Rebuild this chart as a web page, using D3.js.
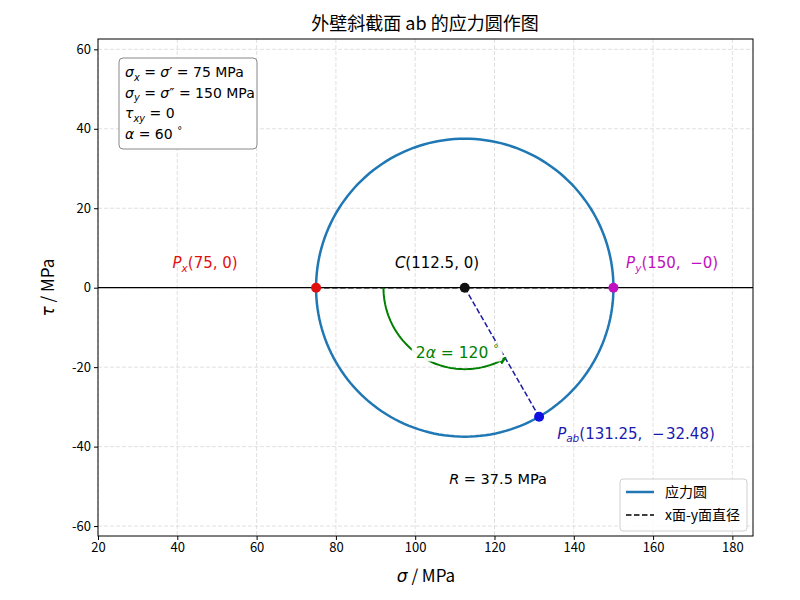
<!DOCTYPE html>
<html>
<head>
<meta charset="utf-8">
<script src="https://cdn.jsdelivr.net/npm/d3@7"></script>
<style>
  body { margin: 0; background: #fff; }
  svg text { font-family: "Noto Sans CJK SC", "DejaVu Sans", sans-serif; }
  .m { font-family: "DejaVu Sans", sans-serif; }
</style>
</head>
<body>
<svg id="chart" width="800" height="600"></svg>
<script>
// stress values
var sigmaValues = [75, 150, 112.5, 131.25];
var tauValues = [0, 0, 0, -32.48];
var pointNames = ["Px", "Py", "C", "Pab"];
var pointColors = ["#e01010", "#c010c0", "#101010", "#1010e0"];
var radiusR = 37.5;
var twoAlpha = 120;
var xTicks = [20, 40, 60, 80, 100, 120, 140, 160, 180];
var yTicks = [-60, -40, -20, 0, 20, 40, 60];
var xDomain = [20, 185.2];
var yDomain = [-62.5, 62.6];

var svg = d3.select("#chart");
var plotLeft = 98, plotRight = 753, plotTop = 39, plotBottom = 536;

var x = d3.scaleLinear().domain(xDomain).range([plotLeft, plotRight]);
var y = d3.scaleLinear().domain(yDomain).range([plotBottom, plotTop]);

// grid
var grid = svg.append("g");
grid.selectAll("line.gx").data(xTicks).enter().append("line")
    .attr("x1", function (d) { return x(d); }).attr("x2", function (d) { return x(d); })
    .attr("y1", plotTop).attr("y2", plotBottom)
    .attr("stroke", "#d8d8d8").attr("stroke-width", 0.8).attr("stroke-dasharray", "4,2");
grid.selectAll("line.gy").data(yTicks).enter().append("line")
    .attr("y1", function (d) { return y(d); }).attr("y2", function (d) { return y(d); })
    .attr("x1", plotLeft).attr("x2", plotRight)
    .attr("stroke", "#d8d8d8").attr("stroke-width", 0.8).attr("stroke-dasharray", "4,2");

// axes
var xAxis = svg.append("g").attr("transform", "translate(0," + plotBottom + ")")
    .call(d3.axisBottom(x).tickValues(xTicks).tickSize(4).tickSizeOuter(0).tickFormat(d3.format("d")));
var yAxis = svg.append("g").attr("transform", "translate(" + plotLeft + ",0)")
    .call(d3.axisLeft(y).tickValues(yTicks).tickSize(4).tickSizeOuter(0).tickFormat(function (d) { return String(d); }));
[xAxis, yAxis].forEach(function (a) {
    a.selectAll("text").attr("font-size", 13).attr("fill", "#000")
        .style("font-family", '"Noto Sans CJK SC", sans-serif');
    a.select(".domain").remove();
    a.selectAll(".tick line").attr("stroke", "#000");
});
svg.append("rect").attr("x", plotLeft).attr("y", plotTop)
    .attr("width", plotRight - plotLeft).attr("height", plotBottom - plotTop)
    .attr("fill", "none").attr("stroke", "#000").attr("stroke-width", 1);

// tau = 0 line
svg.append("line").attr("x1", plotLeft).attr("x2", plotRight).attr("y1", y(0)).attr("y2", y(0))
    .attr("stroke", "#000").attr("stroke-width", 1.2);

// stress circle
var cx = sigmaValues[2], cy = tauValues[2];
var angles = d3.range(0, 361, 2);
var circLine = d3.line()
    .x(function (a) { return x(cx + radiusR * Math.cos(a * Math.PI / 180)); })
    .y(function (a) { return y(cy + radiusR * Math.sin(a * Math.PI / 180)); });
svg.append("path").attr("d", circLine(angles)).attr("fill", "none")
    .attr("stroke", "#1f77b4").attr("stroke-width", 2.5);

// diameter x-y
svg.append("line").attr("x1", x(sigmaValues[0])).attr("y1", y(tauValues[0]))
    .attr("x2", x(sigmaValues[1])).attr("y2", y(tauValues[1]))
    .attr("stroke", "#000").attr("stroke-width", 1.5).attr("stroke-dasharray", "5.5,2.5");
// C to Pab
svg.append("line").attr("x1", x(cx)).attr("y1", y(cy))
    .attr("x2", x(sigmaValues[3])).attr("y2", y(tauValues[3]))
    .attr("stroke", "#1a1aa0").attr("stroke-width", 1.5).attr("stroke-dasharray", "5.5,2.5");

// 2alpha arc
var arcR = 20.5;
var arcAngles = d3.range(180, 180 + twoAlpha + 0.1, 2);
var arcLine = d3.line()
    .x(function (a) { return x(cx + arcR * Math.cos(a * Math.PI / 180)); })
    .y(function (a) { return y(cy + arcR * Math.sin(a * Math.PI / 180)); });
svg.append("defs").append("marker").attr("id", "arrow").attr("viewBox", "0 0 10 10")
    .attr("refX", 8).attr("refY", 5).attr("markerWidth", 4).attr("markerHeight", 4)
    .attr("orient", "auto").append("path").attr("d", "M0,0 L10,5 L0,10 z").attr("fill", "green");
svg.append("path").attr("d", arcLine(arcAngles)).attr("fill", "none")
    .attr("stroke", "green").attr("stroke-width", 2).attr("marker-end", "url(#arrow)");

// points
svg.selectAll("circle.pt").data(pointNames).enter().append("circle")
    .attr("cx", function (d, i) { return x(sigmaValues[i]); })
    .attr("cy", function (d, i) { return y(tauValues[i]); })
    .attr("r", 5).attr("fill", function (d, i) { return pointColors[i]; });

// math text helper: parts = [text, kind] kind: n normal, i italic, s subscript italic
function mathText(g, px, py, parts, size, color, anchor) {
    var t = g.append("text").attr("x", px).attr("y", py).attr("font-size", size)
        .attr("fill", color).attr("class", "m").attr("text-anchor", anchor || "start");
    parts.forEach(function (p) {
        var ts = t.append("tspan").text(p[0]);
        if (p[1] === "i") ts.attr("font-style", "italic");
        if (p[1] === "s") ts.attr("font-style", "italic").attr("font-size", size * 0.7).attr("dy", size * 0.25);
        if (p[1] === "sup") ts.attr("font-size", size * 0.7).attr("dy", -size * 0.35);
        if (p[1] === "back") ts.attr("dy", -size * 0.25);
    });
    return t;
}

// point labels
mathText(svg, x(38.8), y(5), [["P", "i"], ["x", "s"], ["(75, 0)", "back"]], 15, "#e01010");
mathText(svg, x(105.5), y(5), [["C", "i"], ["(112.5, 0)", "n"]], 15, "#000", "middle");
mathText(svg, x(153.2), y(5), [["P", "i"], ["y", "s"], ["(150, \u00a0\u22120)", "back"]], 15, "#c010c0");
mathText(svg, x(135.8), y(-38), [["P", "i"], ["ab", "s"], ["(131.25, \u00a0\u2212\u200a32.48)", "back"]], 15, "#1a1ab0");
mathText(svg, x(120.9), y(-49.5), [["R", "i"], [" = 37.5 MPa", "n"]], 14.5, "#000", "middle");

// 2alpha label with white box
var lab = svg.append("g");
var lt = mathText(lab, x(110.6), y(-17.6), [["2", "n"], ["\u03b1", "i"], [" = 120 ", "n"], ["\u00b0", "sup"]], 15.5, "green", "middle");
var bb = lt.node().getBBox();
lab.insert("rect", "text").attr("x", bb.x - 4).attr("y", bb.y + 1).attr("width", bb.width + 8)
    .attr("height", bb.height - 1).attr("rx", 4).attr("fill", "#fff").attr("opacity", 0.92);

// info box
var info = svg.append("g");
info.append("rect").attr("x", 119).attr("y", 58).attr("width", 138).attr("height", 91)
    .attr("rx", 4).attr("fill", "#fff").attr("stroke", "#888").attr("stroke-width", 1);
mathText(info, 125, 77, [["\u03c3", "i"], ["x", "s"], [" = ", "back"], ["\u03c3", "i"], ["\u2032", "n"], [" = 75 MPa", "n"]], 14, "#000");
mathText(info, 125, 97.5, [["\u03c3", "i"], ["y", "s"], [" = ", "back"], ["\u03c3", "i"], ["\u2033", "n"], [" = 150 MPa", "n"]], 14, "#000");
mathText(info, 125, 118, [["\u03c4", "i"], ["xy", "s"], [" = 0", "back"]], 14, "#000");
mathText(info, 125, 138.5, [["\u03b1", "i"], [" = 60 ", "n"], ["\u00b0", "sup"]], 14, "#000");

// legend
var legItems = ["应力圆", "x面-y面直径"];
var leg = svg.append("g");
leg.append("rect").attr("x", 620).attr("y", 479).attr("width", 127).attr("height", 52)
    .attr("rx", 3).attr("fill", "#fff").attr("stroke", "#ccc").attr("opacity", 0.9);
legItems.forEach(function (name, i) {
    var ly = 492 + i * 23;
    leg.append("line").attr("x1", 626).attr("x2", 654).attr("y1", ly).attr("y2", ly)
        .attr("stroke", i === 0 ? "#1f77b4" : "#000").attr("stroke-width", i === 0 ? 2.5 : 1.5)
        .attr("stroke-dasharray", i === 0 ? null : "5.5,2.5");
    leg.append("text").attr("x", 665).attr("y", ly + 5).attr("font-size", 14).text(name);
});

// title and axis labels
svg.append("text").attr("x", 425).attr("y", 30).attr("text-anchor", "middle")
    .attr("font-size", 18).text("外壁斜截面 ab 的应力圆作图");
var xl = svg.append("text").attr("x", 426).attr("y", 582).attr("text-anchor", "middle").attr("font-size", 17);
xl.append("tspan").attr("class", "m").attr("font-style", "italic").text("\u03c3");
xl.append("tspan").text(" / MPa");
var yl = svg.append("text").attr("transform", "translate(54," + y(0) + ") rotate(-90)")
    .attr("text-anchor", "middle").attr("font-size", 17);
yl.append("tspan").attr("class", "m").attr("font-style", "italic").text("\u03c4");
yl.append("tspan").text(" / MPa");
</script>
</body>
</html>
